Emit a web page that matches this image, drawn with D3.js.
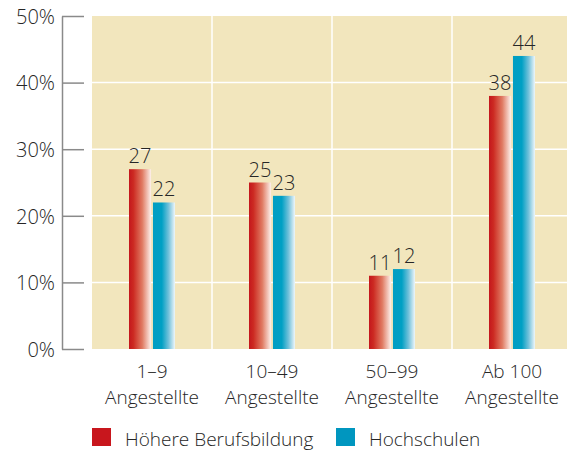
<!DOCTYPE html>
<html>
<head>
<meta charset="utf-8">
<script src="https://cdn.jsdelivr.net/npm/d3@7"></script>
<style>
  body { margin: 0; background: #fff; }
  text { font-family: "Open Sans", "Noto Sans", sans-serif; font-weight: 300; fill: #262626; }
</style>
</head>
<body>
<div id="container"></div>
<script>
const w = 567;
const h = 450;

const categories = ["1–9|Angestellte", "10–49|Angestellte", "50–99|Angestellte", "Ab 100|Angestellte"];
const series = ["Höhere Berufsbildung", "Hochschulen"];
const hoehere = [27, 25, 11, 38];
const hochschulen = [22, 23, 12, 44];
const yTicks = [0, 10, 20, 30, 40, 50];

const values = [hoehere, hochschulen];
const dataSet = [];
categories.forEach((c, i) => series.forEach((s, j) => dataSet.push({cat: c, series: s, value: values[j][i]})));

const svg = d3.select("#container").append("svg")
  .attr("width", w).attr("height", h);

const plotLeft = 92, plotRight = 572, plotTop = 16, plotBottom = 349;

const scaleX = d3.scaleBand().domain(categories).range([plotLeft, plotRight]);
const half = scaleX.bandwidth() / 2;
const scaleX1 = d3.scaleBand().domain(series).range([half - 23, half + 23]).paddingInner(0.08);
const scaleY = d3.scaleLinear().domain([0, 50]).range([plotBottom, plotTop]);

// gradients
const defs = svg.append("defs");
const grads = [
  {id: "gRed", stops: [[0, "#c4161c"], [0.2, "#cc2a22"], [0.6, "#e07a62"], [1, "#fdf1ec"]]},
  {id: "gBlue", stops: [[0, "#009ec3"], [0.4, "#00a0c4"], [0.7, "#6fc0da"], [1, "#eef6fa"]]}
];
grads.forEach(g => {
  const lg = defs.append("linearGradient").attr("id", g.id)
    .attr("x1", "0%").attr("x2", "100%").attr("y1", "0%").attr("y2", "0%");
  g.stops.forEach(s => lg.append("stop").attr("offset", s[0]).attr("stop-color", s[1]));
});
const fillFor = {"Höhere Berufsbildung": "url(#gRed)", "Hochschulen": "url(#gBlue)"};
const legendColor = {"Höhere Berufsbildung": "#c8161d", "Hochschulen": "#0096bf"};

// plot background
svg.append("rect")
  .attr("x", plotLeft).attr("y", plotTop)
  .attr("width", plotRight - plotLeft).attr("height", plotBottom - plotTop)
  .attr("fill", "#f2e6bd");

// grid lines
svg.append("g").selectAll("line").data(yTicks.filter(d => d > 0 && d < 50)).enter().append("line")
  .attr("x1", plotLeft).attr("x2", plotRight)
  .attr("y1", d => scaleY(d)).attr("y2", d => scaleY(d))
  .attr("stroke", "#fff").attr("stroke-width", 1.5);
svg.append("g").selectAll("line").data(categories.slice(1)).enter().append("line")
  .attr("x1", d => scaleX(d)).attr("x2", d => scaleX(d))
  .attr("y1", plotTop).attr("y2", plotBottom)
  .attr("stroke", "#fff").attr("stroke-width", 1.5);

// y axis
const yAxis = d3.axisLeft(scaleY).tickValues(yTicks).tickFormat(d => d + "%")
  .tickSizeInner(-22).tickSizeOuter(0).tickPadding(7);
const yAxisGroup = svg.append("g")
  .attr("transform", "translate(62, 0)")
  .call(yAxis);
yAxisGroup.selectAll("path, line").attr("stroke", "#8a8a8a").attr("stroke-width", 1.5);
yAxisGroup.selectAll("text").attr("font-size", 20).attr("fill", "#262626")
  .attr("font-family", "'Open Sans', sans-serif").attr("font-weight", 300).attr("dy", "0.36em");

// bars
svg.append("g").selectAll("rect").data(dataSet).enter().append("rect")
  .attr("x", d => scaleX(d.cat) + scaleX1(d.series))
  .attr("y", d => scaleY(d.value))
  .attr("width", scaleX1.bandwidth())
  .attr("height", d => plotBottom - scaleY(d.value))
  .attr("fill", d => fillFor[d.series]);

// value labels
svg.append("g").selectAll("text").data(dataSet).enter().append("text")
  .attr("x", d => scaleX(d.cat) + scaleX1(d.series) + scaleX1.bandwidth() / 2)
  .attr("y", d => scaleY(d.value) - 6)
  .attr("text-anchor", "middle")
  .attr("font-size", 20)
  .text(d => d.value);

// category labels
const catLabels = svg.append("g").selectAll("text").data(categories).enter().append("text")
  .attr("text-anchor", "middle")
  .attr("font-size", 19);
catLabels.each(function(d) {
  const parts = d.split("|");
  const t = d3.select(this);
  parts.forEach((p, i) => {
    t.append("tspan").attr("x", scaleX(d) + half).attr("y", 378 + i * 26).text(p);
  });
});

// legend
const legendX = [92, 336];
const legend = svg.append("g").selectAll("g").data(series).enter().append("g")
  .attr("transform", (d, i) => "translate(" + legendX[i] + ", 428)");
legend.append("rect").attr("width", 19).attr("height", 18).attr("fill", d => legendColor[d]);
legend.append("text").attr("x", 33).attr("y", 17.5).attr("font-size", 19).text(d => d);
</script>
</body>
</html>
